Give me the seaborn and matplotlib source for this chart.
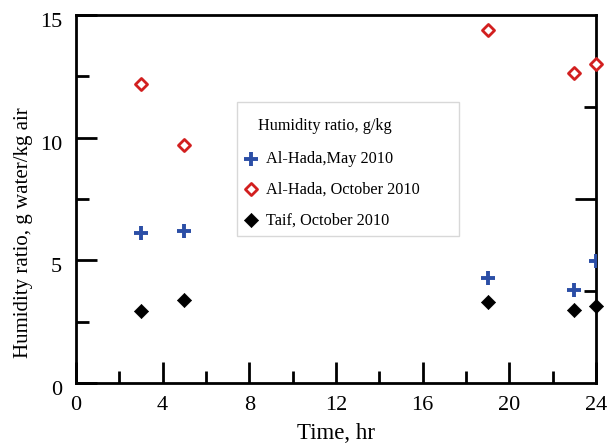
import matplotlib
matplotlib.use("Agg")
import matplotlib.pyplot as plt
import matplotlib.transforms as mtrans
from matplotlib.patches import Rectangle
import seaborn as sns
import pandas as pd

hours = [3, 5, 19, 23, 24]
hada_may = [6.13, 6.20, 4.28, 3.79, 4.97]
hada_oct = [12.19, 9.70, 14.39, 12.64, 13.00]
taif_oct = [2.94, 3.38, 3.32, 2.98, 3.14]
labels = ["Al-Hada,May 2010", "Al-Hada, October 2010", "Taif, October 2010"]
legend_title = "Humidity ratio, g/kg"

sns.set_theme(style="white")
plt.rcParams['font.family'] = ['Liberation Serif', 'DejaVu Serif']

W, H = 613, 445
fig = plt.figure(figsize=(W / 100, H / 100), dpi=100)
ax = fig.add_axes([76 / W, (H - 383) / H, 520 / W, 368 / H])

df = pd.DataFrame({"hour": hours, "may": hada_may, "oct": hada_oct, "taif": taif_oct})

sns.scatterplot(data=df, x="hour", y="may", ax=ax, marker="+", s=105,
                color="#2b4ea6", linewidth=2.8, label=labels[0], zorder=3)
sns.scatterplot(data=df, x="hour", y="oct", ax=ax, marker="D", s=38,
                facecolor="white", edgecolor="#d21f1f", linewidth=2.0,
                label=labels[1], zorder=3, clip_on=False)
sns.scatterplot(data=df, x="hour", y="taif", ax=ax, marker="D", s=52,
                color="black", edgecolor="black", linewidth=0.5,
                label=labels[2], zorder=3, clip_on=False)

ax.set_xlim(0, 24)
ax.set_ylim(0, 15)
ax.set_xticks([0, 4, 8, 12, 16, 20, 24])
ax.set_xticks([2, 6, 10, 14, 18, 22], minor=True)
ax.set_yticks([0, 5, 10, 15])
ax.set_yticks([2.5, 7.5, 12.5], minor=True)
ax.tick_params(axis="both", which="major", direction="in", length=15, width=2,
               labelsize=16, color="black", labelcolor="black")
ax.tick_params(axis="x", which="major", pad=9)
ax.tick_params(axis="y", which="major", pad=10)
ax.tick_params(axis="both", which="minor", direction="in", length=9, width=2,
               color="black")
ax.tick_params(axis="x", which="both", bottom=True, top=False)
ax.tick_params(axis="y", which="both", left=True, right=False)
for sp in ax.spines.values():
    sp.set_linewidth(2)
    sp.set_color("black")

shift = mtrans.ScaledTranslation(0, -5 / 100, fig.dpi_scale_trans)
for lab in ax.get_yticklabels():
    lab.set_transform(lab.get_transform() + shift)

ax2 = ax.twinx()
ax2.set_ylim(0, 15)
ax2.set_yticks([7.5])
ax2.set_yticks([3.75, 11.25], minor=True)
ax2.set_yticklabels([])
ax2.tick_params(axis="y", which="major", direction="in", length=15, width=2, color="black")
ax2.tick_params(axis="y", which="minor", direction="in", length=9, width=2, color="black")
for sp in ax2.spines.values():
    sp.set_visible(False)

ax.set_xlabel("Time, hr", fontsize=16.5, color="black")
ax.xaxis.set_label_coords(0.5, (383 - 423) / 368)
ax.set_ylabel("Humidity ratio, g water/kg air", fontsize=15, color="black")
ax.yaxis.set_label_coords((33 - 76) / 520, (383 - 233) / 368)

# legend box (drawn on the top axes so it stays behind the legend)
box = Rectangle((237 / W, (H - 236) / H), 222 / W, 134 / H,
                transform=fig.transFigure, facecolor="white",
                edgecolor="#d8d8d8", linewidth=1, zorder=10, clip_on=False)
ax2.add_patch(box)
ax2.text(258 / W, 1 - 126 / H, legend_title, fontsize=11.7, color="black",
         ha="left", va="center", zorder=11, transform=fig.transFigure)

handles, labs = ax.get_legend_handles_labels()
ax.get_legend().remove()
leg = ax2.legend(handles, labs, loc="upper left",
                 bbox_to_anchor=(243 / W, 1 - 151 / H),
                 bbox_transform=fig.transFigure, fontsize=11.7,
                 frameon=False, labelspacing=0.9, handletextpad=0.44,
                 handlelength=1.0, borderpad=0, borderaxespad=0)
leg.set_zorder(12)
for t in leg.get_texts():
    t.set_color("black")

fig.savefig("out.png", dpi=100)
